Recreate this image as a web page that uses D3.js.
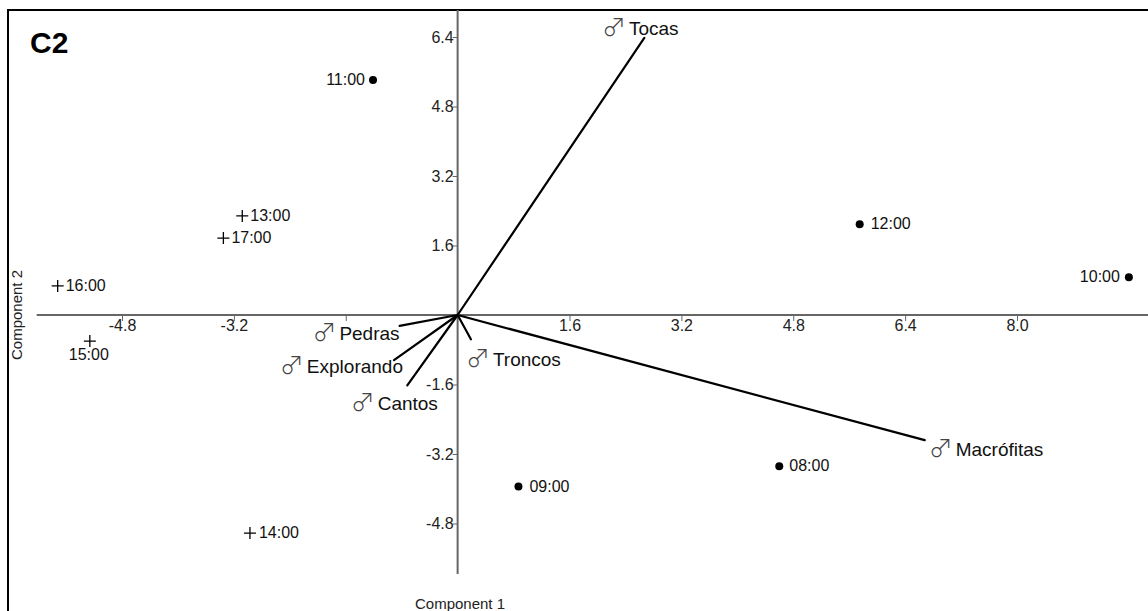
<!DOCTYPE html>
<html>
<head>
<meta charset="utf-8">
<script src="https://cdn.jsdelivr.net/npm/d3@7"></script>
<style>
  html, body { margin: 0; padding: 0; background: #fff; }
  svg { display: block; }
  text { font-family: "Liberation Sans", Arial, sans-serif; }
</style>
</head>
<body>
<svg id="chart" width="1148" height="611"></svg>
<script>
// PCA scores of the hourly samples (Component 1, Component 2)
const hours   = ["08:00", "09:00", "10:00", "11:00", "12:00", "13:00", "14:00", "15:00", "16:00", "17:00"];
const scoreC1 = [4.60, 0.87, 9.60, -1.21, 5.75, -3.08, -2.97, -5.26, -5.72, -3.35];
const scoreC2 = [-3.48, -3.95, 0.87, 5.41, 2.09, 2.28, -5.02, -0.60, 0.67, 1.77];
const hourGroup = ["dot", "dot", "dot", "dot", "dot", "plus", "plus", "plus", "plus", "plus"];

// Loadings of the behaviour variables (biplot vectors)
const variables = ["Tocas", "Macrófitas", "Troncos", "Pedras", "Explorando", "Cantos"];
const loadC1    = [2.67, 6.68, 0.19, -0.83, -0.91, -0.72];
const loadC2    = [6.38, -2.88, -0.56, -0.25, -1.04, -1.62];

// Axis ticks
const xTicks = [-4.8, -3.2, -1.6, 1.6, 3.2, 4.8, 6.4, 8.0];
const yTicks = [-4.8, -3.2, -1.6, 1.6, 3.2, 4.8, 6.4];
const xHiddenLabels = [-1.6];

const panelLabel = "C2";
const xTitle = "Component 1";
const yTitle = "Component 2";
const male = "\u2642";

// Label placement (text anchor and offset from the mark)
const hourLabelPos = {
  "08:00": ["start", 10, 5], "09:00": ["start", 11, 5], "10:00": ["end", -9, 5],
  "11:00": ["end", -8, 5], "12:00": ["start", 11, 5], "13:00": ["start", 8, 5],
  "14:00": ["start", 9, 5], "15:00": ["middle", -1, 19], "16:00": ["start", 8, 5],
  "17:00": ["start", 8, 5]
};
const varLabelPos = {
  "Tocas": ["middle", -4, -3], "Macrófitas": ["start", 4, 16], "Troncos": ["start", -5, 27],
  "Pedras": ["end", 0, 14], "Explorando": ["end", 9, 13], "Cantos": ["middle", -13, 25]
};

const svg = d3.select("#chart");

const x = d3.scaleLinear().domain([-4.8, 8.0]).range([122, 1017]);
const y = d3.scaleLinear().domain([6.4, -4.8]).range([37, 523.5]);

// Frame
svg.append("rect")
  .attr("x", 8).attr("y", 10).attr("width", 1160).attr("height", 620)
  .attr("fill", "none").attr("stroke", "#000").attr("stroke-width", 2);

// Axes through the origin
const axisColor = "#666";
svg.append("line")
  .attr("x1", x(-6.02)).attr("x2", x(9.95))
  .attr("y1", y(0)).attr("y2", y(0))
  .attr("stroke", axisColor).attr("stroke-width", 2);
svg.append("line")
  .attr("x1", x(0)).attr("x2", x(0))
  .attr("y1", y(7.02)).attr("y2", y(-5.96))
  .attr("stroke", axisColor).attr("stroke-width", 2);

const xAxis = d3.axisBottom(x)
  .tickValues(xTicks)
  .tickSize(6)
  .tickPadding(-1)
  .tickFormat(d => xHiddenLabels.includes(d) ? "" : d.toFixed(1));
const gx = svg.append("g").attr("transform", `translate(0,${y(0)})`).call(xAxis);
gx.select(".domain").remove();
gx.selectAll(".tick line").attr("stroke", axisColor).attr("stroke-width", 1);
gx.selectAll(".tick text").attr("fill", "#222").attr("font-size", 16)
  .attr("font-family", "'Liberation Sans', Arial, sans-serif");

const yAxis = d3.axisLeft(y)
  .tickValues(yTicks)
  .tickSize(5)
  .tickPadding(-1)
  .tickFormat(d => d.toFixed(1));
const gy = svg.append("g").attr("transform", `translate(${x(0)},0)`).call(yAxis);
gy.select(".domain").remove();
gy.selectAll(".tick line").attr("stroke", axisColor).attr("stroke-width", 1);
gy.selectAll(".tick text").attr("fill", "#222").attr("font-size", 16)
  .attr("font-family", "'Liberation Sans', Arial, sans-serif");

// Biplot vectors
const vecData = variables.map((v, i) => ({ name: v, c1: loadC1[i], c2: loadC2[i] }));
svg.append("g").selectAll("line").data(vecData).join("line")
  .attr("x1", x(0)).attr("y1", y(0))
  .attr("x2", d => x(d.c1)).attr("y2", d => y(d.c2))
  .attr("stroke", "#000").attr("stroke-width", 2.2).attr("stroke-linecap", "round");

const vLabels = svg.append("g").selectAll("text").data(vecData).join("text")
  .attr("x", d => x(d.c1) + varLabelPos[d.name][1])
  .attr("y", d => y(d.c2) + varLabelPos[d.name][2])
  .attr("text-anchor", d => varLabelPos[d.name][0])
  .attr("font-size", 19)
  .attr("fill", "#111");
vLabels.append("tspan")
  .attr("font-family", "'Noto Sans CJK JP', 'Noto Sans CJK SC', sans-serif")
  .attr("font-weight", 300)
  .attr("fill", "#444")
  .attr("font-size", 24)
  .attr("dy", 1)
  .text(male);
vLabels.append("tspan").attr("dx", 3).attr("dy", -1).text(d => d.name);

// Hour scores
const pts = hours.map((h, i) => ({ name: h, c1: scoreC1[i], c2: scoreC2[i], group: hourGroup[i] }));
const gp = svg.append("g");
gp.selectAll("circle").data(pts.filter(d => d.group === "dot")).join("circle")
  .attr("cx", d => x(d.c1)).attr("cy", d => y(d.c2)).attr("r", 4).attr("fill", "#000");
gp.selectAll("path").data(pts.filter(d => d.group === "plus")).join("path")
  .attr("d", d => {
    const cx = x(d.c1), cy = y(d.c2), s = 6;
    return `M${cx - s},${cy}H${cx + s}M${cx},${cy - s}V${cy + s}`;
  })
  .attr("stroke", "#000").attr("stroke-width", 1.3).attr("fill", "none");
gp.selectAll("text").data(pts).join("text")
  .attr("x", d => x(d.c1) + hourLabelPos[d.name][1])
  .attr("y", d => y(d.c2) + hourLabelPos[d.name][2])
  .attr("text-anchor", d => hourLabelPos[d.name][0])
  .attr("font-size", 16)
  .attr("fill", "#111")
  .text(d => d.name);

// Titles
svg.append("text")
  .attr("x", 30).attr("y", 53)
  .attr("font-size", 30).attr("font-weight", "bold").attr("fill", "#000")
  .text(panelLabel);
svg.append("text")
  .attr("x", 460).attr("y", 609)
  .attr("text-anchor", "middle").attr("font-size", 15).attr("fill", "#222")
  .text(xTitle);
svg.append("text")
  .attr("transform", `translate(22,${y(0)}) rotate(-90)`)
  .attr("text-anchor", "middle").attr("font-size", 15).attr("fill", "#222")
  .text(yTitle);
</script>
</body>
</html>
